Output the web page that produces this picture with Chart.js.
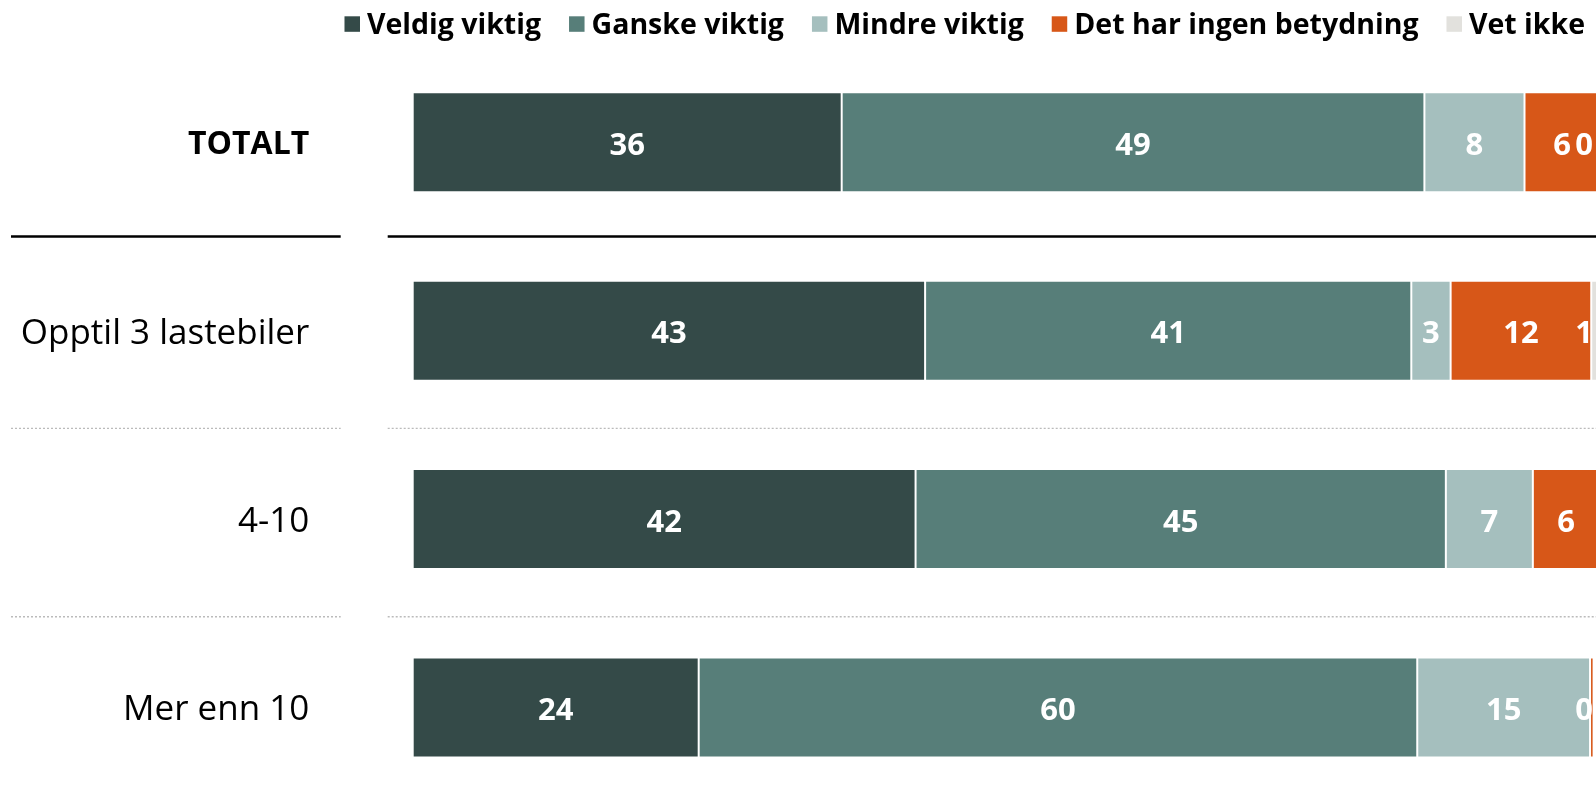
<!DOCTYPE html>
<html><head><meta charset="utf-8">
<script src="https://cdn.jsdelivr.net/npm/chart.js@4.4.1/dist/chart.umd.min.js"></script>
<style>html,body{margin:0;padding:0;background:#fff;overflow:hidden}</style>
</head><body>
<canvas id="c" width="1596" height="790"></canvas>
<script>
const categories = ['TOTALT', 'Opptil 3 lastebiler', '4-10', 'Mer enn 10'];
const seriesNames = ['Veldig viktig', 'Ganske viktig', 'Mindre viktig', 'Det har ingen betydning', 'Vet ikke'];
const veldigViktig   = [36.0, 43.0, 42.2, 24.0];
const ganskeViktig   = [48.9, 40.8, 44.5, 60.3];
const mindreViktig   = [8.4, 3.3, 7.3, 14.5];
const ingenBetydning = [6.3, 11.8, 5.6, 0.3];
const vetIkke        = [0.4, 1.1, 0, 0];
const seriesValues = [veldigViktig, ganskeViktig, mindreViktig, ingenBetydning, vetIkke];
const colors = ['#344a48', '#577e79', '#a5bfbe', '#d75718', '#e2e1dd'];
const xMax = 99.3;

const separators = {
  id: 'separators',
  afterDraw(chart) {
    const y = chart.scales.y, a = chart.chartArea, c = chart.ctx;
    for (let i = 0; i < categories.length - 1; i++) {
      let py = (y.getPixelForValue(i) + y.getPixelForValue(i + 1)) / 2;
      c.save();
      if (i === 0) { c.strokeStyle = '#000'; c.lineWidth = 2.7; c.setLineDash([]); }
      else { py += 3.5; c.strokeStyle = '#bbbbbb'; c.lineWidth = 1.4; c.setLineDash([2, 2]); }
      c.beginPath();
      c.moveTo(11, py); c.lineTo(a.left - 72, py);
      c.moveTo(a.left - 25, py); c.lineTo(a.right, py);
      c.stroke();
      c.restore();
    }
  }
};

const customLegend = {
  id: 'customLegend',
  afterDraw(chart) {
    const c = chart.ctx;
    c.save();
    c.font = 'bold 28.5px "Open Sans"';
    const box = 15.5, gapBox = 7, gapItem = 28;
    const widths = seriesNames.map(n => c.measureText(n).width);
    const total = widths.reduce((s, w) => s + w, 0) + seriesNames.length * (box + gapBox) + (seriesNames.length - 1) * gapItem;
    let x = chart.width - 11 - total;
    c.textBaseline = 'alphabetic';
    seriesNames.forEach((n, i) => {
      c.fillStyle = colors[i];
      c.fillRect(x, 16.3, box, box);
      x += box + gapBox;
      c.fillStyle = '#000';
      c.fillText(n, x, 33.8);
      x += widths[i] + gapItem;
    });
    c.restore();
  }
};

const valueLabels = {
  id: 'valueLabels',
  afterDatasetsDraw(chart) {
    const c = chart.ctx, a = chart.chartArea;
    c.save();
    c.font = 'bold 31px "Open Sans"';
    c.fillStyle = '#fff';
    c.textAlign = 'center';
    c.textBaseline = 'alphabetic';
    chart.data.datasets.forEach((ds, di) => {
      const meta = chart.getDatasetMeta(di);
      meta.data.forEach((el, i) => {
        const v = ds.data[i];
        if (!v) return;
        const t = String(Math.round(v));
        const w = c.measureText(t).width;
        let x = (el.x + el.base) / 2;
        x = Math.min(x, a.right - 3 - w / 2);
        c.fillText(t, x, el.y + 12.5);
      });
    });
    c.restore();
  }
};

new Chart(document.getElementById('c'), {
  type: 'bar',
  data: {
    labels: categories,
    datasets: seriesValues.map((d, i) => ({
      label: seriesNames[i],
      data: d,
      backgroundColor: colors[i],
      borderColor: 'rgba(255,255,255,0.22)',
      borderWidth: 1,
      borderSkipped: false,
      barPercentage: 0.531,
      categoryPercentage: 1,
      clip: false
    }))
  },
  options: {
    indexAxis: 'y',
    responsive: false,
    animation: false,
    devicePixelRatio: 1,
    layout: { padding: { top: 142.3, bottom: 82.5, left: 0, right: 0 } },
    scales: {
      x: { stacked: true, display: false, min: 0, max: xMax },
      y: {
        stacked: true,
        offset: false,
        grid: { display: false, drawTicks: false },
        border: { display: false },
        ticks: {
          padding: 103.4,
          labelOffset: 3,
          color: '#000',
          autoSkip: false,
          font: (ctx) => ctx.index === 0
            ? { family: 'Open Sans', size: 32, weight: 'bold' }
            : { family: 'Open Sans', size: 35, weight: 'normal' }
        },
        afterFit: (s) => { s.width = 412.7; s.paddingTop = 0; s.paddingBottom = 0; }
      }
    },
    plugins: { legend: { display: false }, tooltip: { enabled: false } }
  },
  plugins: [separators, customLegend, valueLabels]
});
</script>
</body></html>
